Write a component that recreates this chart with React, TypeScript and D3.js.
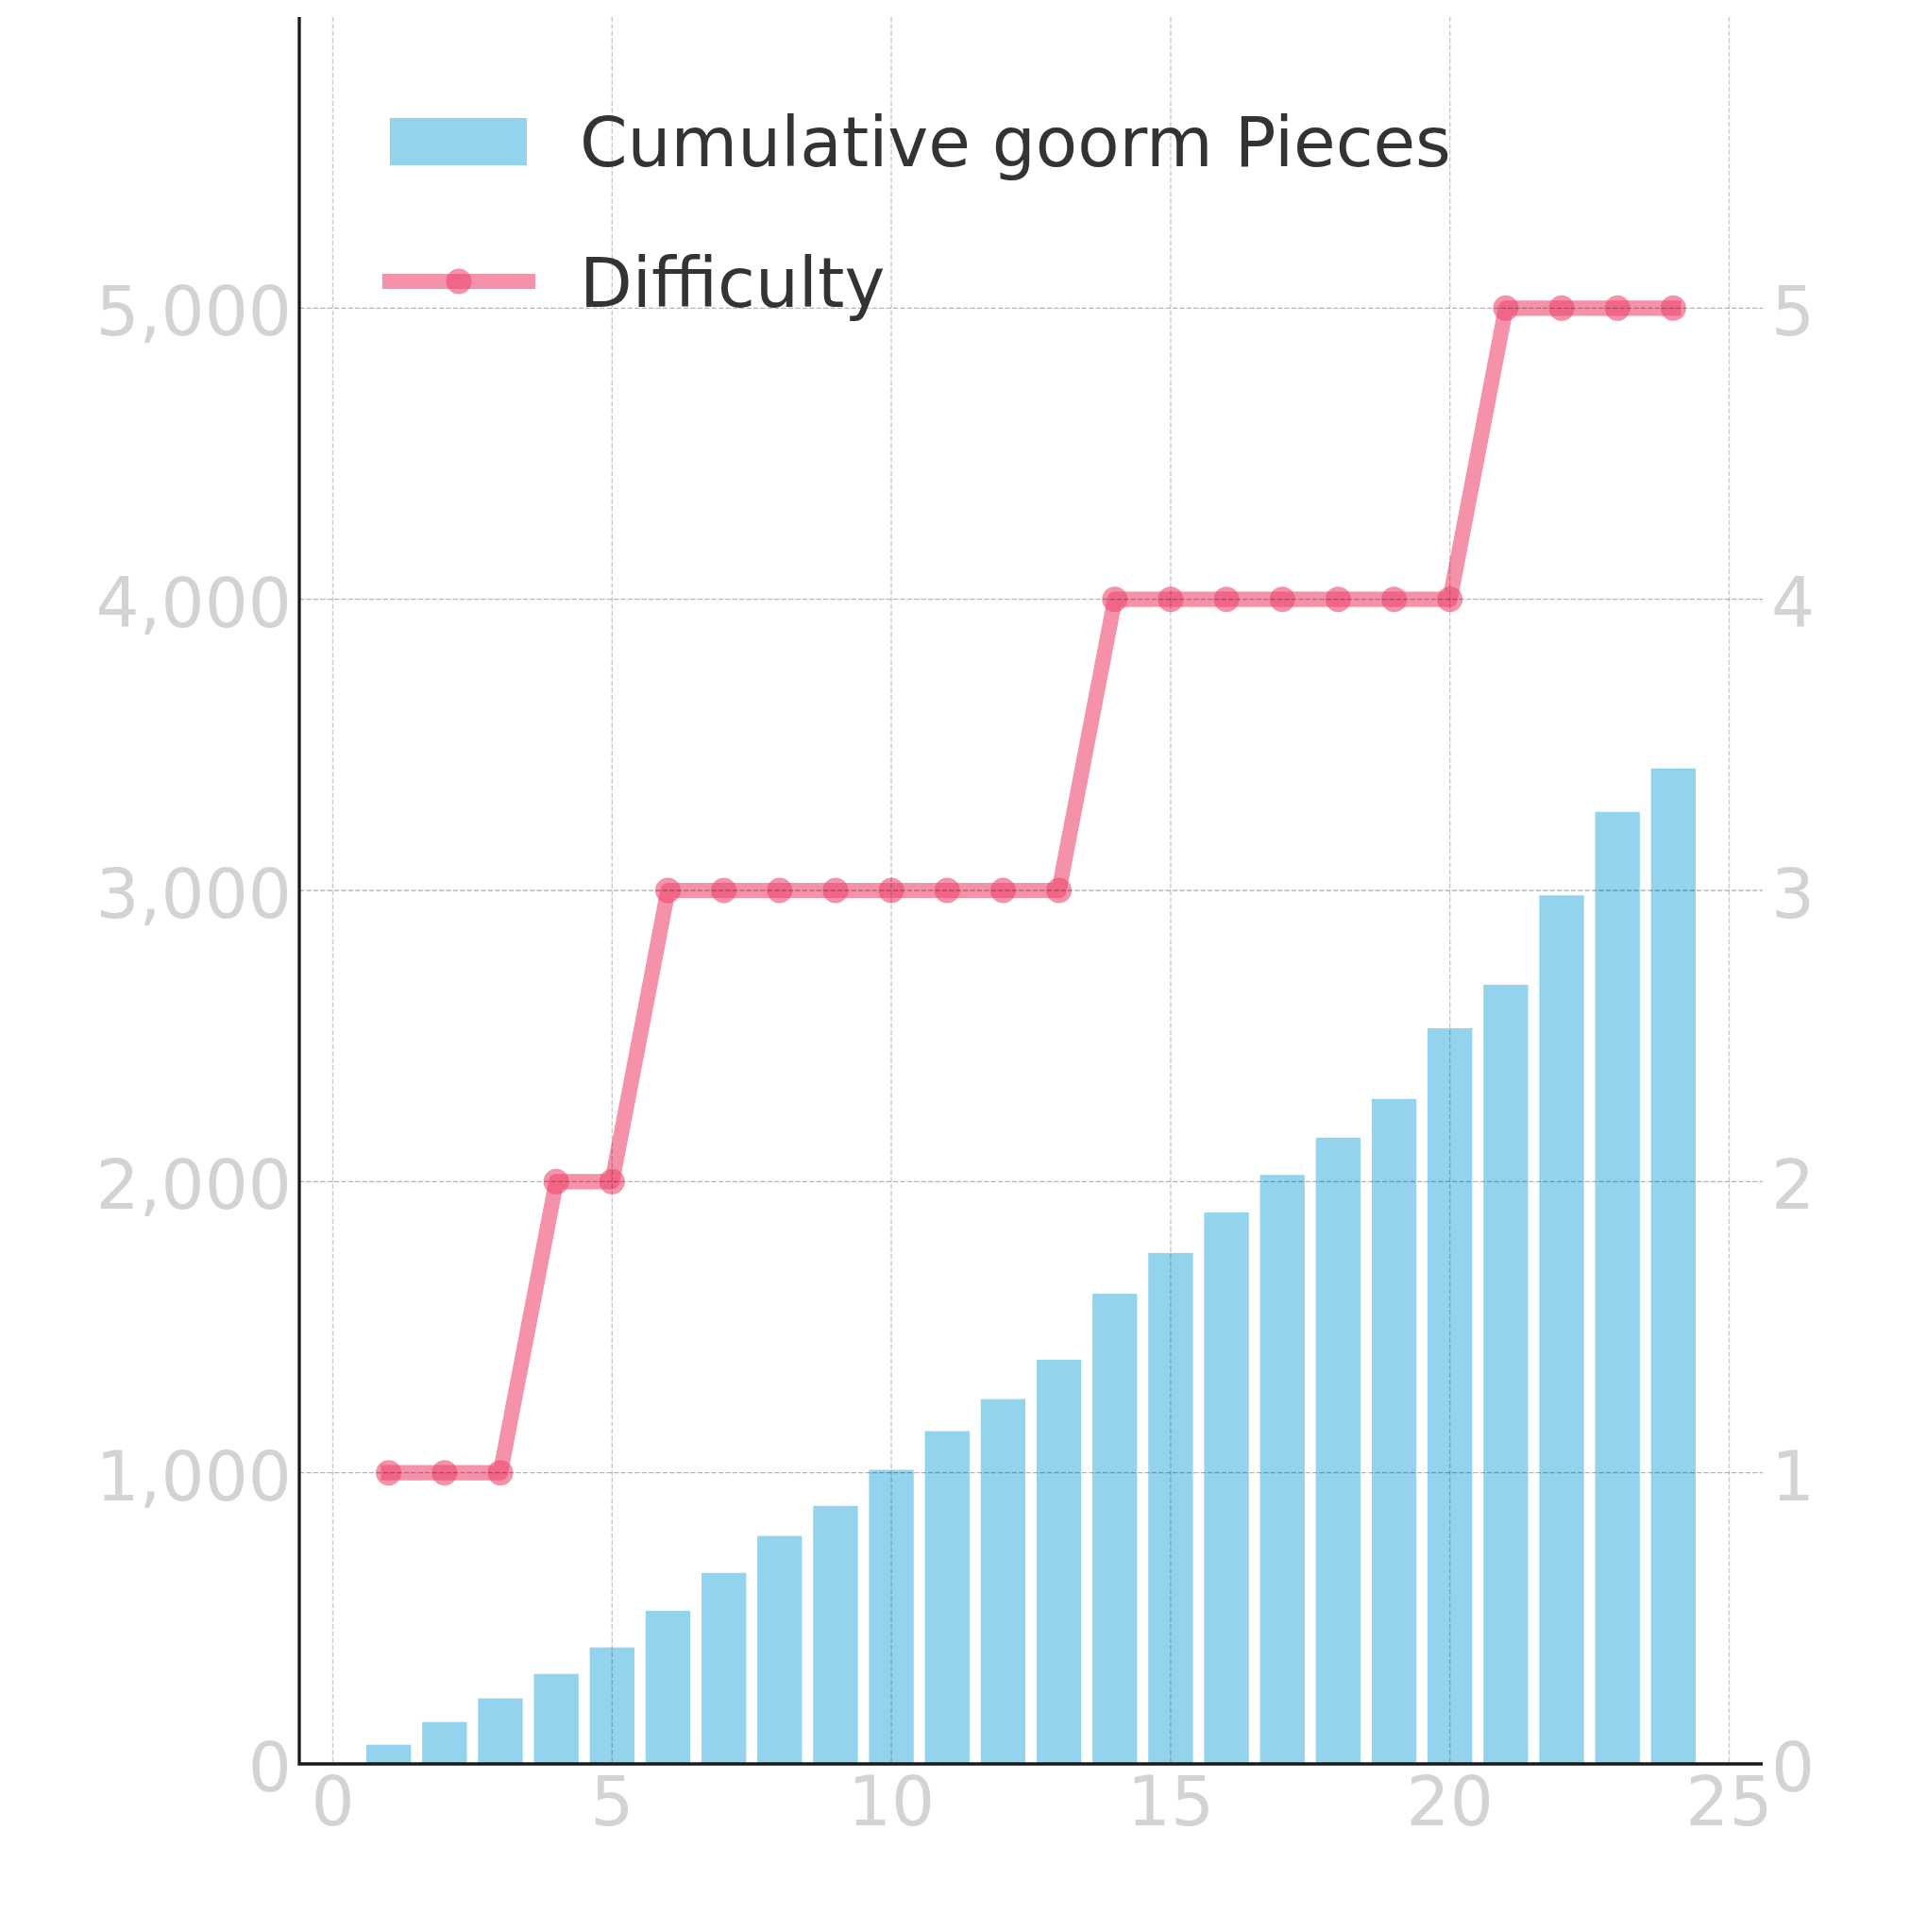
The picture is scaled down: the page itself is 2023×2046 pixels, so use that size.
import { useEffect, useRef } from 'react';
import * as d3 from 'd3';

// pieces collected per stage (cumulative) and the stage difficulty
const stages = [
  1, 2, 3, 4, 5, 6, 7, 8, 9, 10, 11, 12, 13, 14, 15, 16, 17, 18, 19, 20, 21, 22, 23, 24
];
const cumulativePieces = [
  66, 144, 225, 309, 400, 526, 656, 783, 886, 1010, 1143, 1253, 1388, 1615, 1755,
  1894, 2023, 2151, 2284, 2527, 2676, 2983, 3270, 3419
];
const difficulty = [
  1, 1, 1, 2, 2, 3, 3, 3, 3, 3, 3, 3, 3, 4, 4, 4, 4, 4, 4, 4, 5, 5, 5, 5
];
const xTicks = [0, 5, 10, 15, 20, 25];
const leftTicks = [0, 1000, 2000, 3000, 4000, 5000];
const rightTicks = [0, 1, 2, 3, 4, 5];
const seriesNames = ['Cumulative goorm Pieces', 'Difficulty'];

const W = 2023;
const H = 2046;
const FONT = '"DejaVu Sans", Verdana, sans-serif';
const FONT_SIZE = 72.5;
const BAR = '#87CEEB';
const LINE = '#EF476F';
const LINE_W = 16.2;

export default function App() {
  const svgRef = useRef<SVGSVGElement>(null);

  useEffect(() => {
    document.body.style.margin = '0';
    if (!svgRef.current) return;
    const svg = d3.select(svgRef.current);
    svg.selectAll('*').remove();

    const left = 317;
    const right = 1867;
    const top = 18;
    const bottom = 1868;

    const x = d3.scaleLinear().domain([-0.6, 25.6]).range([left, right]);
    const y = d3.scaleLinear().domain([0, 6000]).range([bottom, top]);
    const y2 = d3.scaleLinear().domain([0, 6]).range([bottom, top]);

    // bars
    svg
      .append('g')
      .selectAll('rect')
      .data(stages)
      .enter()
      .append('rect')
      .attr('x', (d) => x(d - 0.4))
      .attr('width', (d) => x(d + 0.4) - x(d - 0.4))
      .attr('y', (_, i) => y(cumulativePieces[i]))
      .attr('height', (_, i) => bottom - y(cumulativePieces[i]))
      .attr('fill', BAR)
      .attr('fill-opacity', 0.9);

    // difficulty line
    const line = d3
      .line<number>()
      .x((d) => x(d))
      .y((_, i) => y2(difficulty[i]));

    svg
      .append('path')
      .datum(stages)
      .attr('d', line)
      .attr('fill', 'none')
      .attr('stroke', LINE)
      .attr('stroke-opacity', 0.6)
      .attr('stroke-width', LINE_W)
      .attr('stroke-linecap', 'square')
      .attr('stroke-linejoin', 'round');

    svg
      .append('g')
      .selectAll('circle')
      .data(stages)
      .enter()
      .append('circle')
      .attr('cx', (d) => x(d))
      .attr('cy', (_, i) => y2(difficulty[i]))
      .attr('r', 13.5)
      .attr('fill', LINE)
      .attr('fill-opacity', 0.6);

    // grid on top
    const grid = svg.append('g').attr('stroke-width', 1.4).attr('stroke-dasharray', '5.2,2.2');
    grid
      .selectAll('line.v')
      .data(xTicks)
      .enter()
      .append('line')
      .attr('x1', (d) => x(d))
      .attr('x2', (d) => x(d))
      .attr('y1', top)
      .attr('y2', bottom)
      .attr('stroke', 'rgba(0,0,0,0.21)');
    grid
      .selectAll('line.h')
      .data(leftTicks.slice(1))
      .enter()
      .append('line')
      .attr('x1', left)
      .attr('x2', right)
      .attr('y1', (d) => y(d))
      .attr('y2', (d) => y(d))
      .attr('stroke', 'rgba(0,0,0,0.29)');

    // spines
    svg
      .append('path')
      .attr('d', `M${left},${top}V${bottom}H${right}`)
      .attr('fill', 'none')
      .attr('stroke', '#1a1a1a')
      .attr('stroke-width', 3.3);

    // tick labels
    const labels = svg
      .append('g')
      .attr('font-family', FONT)
      .attr('font-size', FONT_SIZE)
      .attr('fill', '#d3d3d3');
    const fmt = d3.format(',');

    labels
      .selectAll('text.l')
      .data(leftTicks)
      .enter()
      .append('text')
      .attr('x', left - 8)
      .attr('y', (d) => y(d) + 29)
      .attr('text-anchor', 'end')
      .text((d) => fmt(d));

    labels
      .selectAll('text.r')
      .data(rightTicks)
      .enter()
      .append('text')
      .attr('x', right + 9)
      .attr('y', (d) => y2(d) + 29)
      .attr('text-anchor', 'start')
      .text((d) => String(d));

    labels
      .selectAll('text.b')
      .data(xTicks)
      .enter()
      .append('text')
      .attr('x', (d) => x(d))
      .attr('y', 1933)
      .attr('text-anchor', 'middle')
      .text((d) => String(d));

    // legend
    const legend = svg.append('g');
    legend
      .append('rect')
      .attr('x', 413)
      .attr('y', 125)
      .attr('width', 145)
      .attr('height', 50)
      .attr('fill', BAR)
      .attr('fill-opacity', 0.9);
    legend
      .append('line')
      .attr('x1', 413)
      .attr('x2', 559)
      .attr('y1', 298)
      .attr('y2', 298)
      .attr('stroke', LINE)
      .attr('stroke-opacity', 0.6)
      .attr('stroke-width', LINE_W)
      .attr('stroke-linecap', 'square');
    legend
      .append('circle')
      .attr('cx', 486)
      .attr('cy', 298)
      .attr('r', 13.5)
      .attr('fill', LINE)
      .attr('fill-opacity', 0.6);
    legend
      .selectAll('text')
      .data(seriesNames)
      .enter()
      .append('text')
      .attr('x', 614)
      .attr('y', (_, i) => (i === 0 ? 176 : 324.5))
      .attr('font-family', FONT)
      .attr('font-size', FONT_SIZE)
      .attr('fill', '#333333')
      .text((d) => d);
  }, []);

  return <svg ref={svgRef} width={W} height={H} style={{ display: 'block', background: '#fff' }} />;
}
